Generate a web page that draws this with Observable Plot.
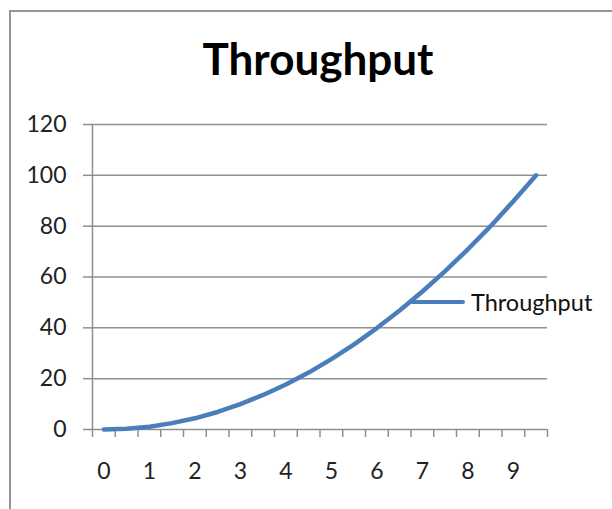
<!DOCTYPE html>
<html>
<head>
<meta charset="utf-8">
<script src="https://cdn.jsdelivr.net/npm/d3@7"></script>
<script src="https://cdn.jsdelivr.net/npm/@observablehq/plot@0.6"></script>
<style>
  html, body { margin: 0; padding: 0; background: #fff; }
  #wrap { position: relative; width: 612px; height: 509px; overflow: hidden; background: #fff; font-family: Lato, "DejaVu Sans", sans-serif; }
  #frame { position: absolute; left: 9px; top: 10px; width: 900px; height: 900px; border-left: 2px solid #959595; border-top: 2px solid #959595; box-sizing: border-box; }
  #title { position: absolute; left: 0; top: 35.5px; width: 636px; text-align: center; font: bold 44px/44px Lato, sans-serif; color: #000; }
  #chart { position: absolute; left: 0; top: 0; }
  #legend { position: absolute; left: 410px; top: 290.5px; display: flex; align-items: center; gap: 6px; font: 23.5px/23px Lato, sans-serif; color: #111; white-space: nowrap; }
  #legend .sw { display: inline-block; width: 55px; height: 4.5px; background: #4a7ebb; border-radius: 2px; }
</style>
</head>
<body>
<div id="wrap">
  <div id="frame"></div>
  <div id="title">Throughput</div>
  <div id="chart"></div>
  <div id="legend"><span class="sw"></span><span>Throughput</span></div>
</div>
<script>
// Categories (x values) and series values
const xs = [0, 0.5, 1, 1.5, 2, 2.5, 3, 3.5, 4, 4.5, 5, 5.5, 6, 6.5, 7, 7.5, 8, 8.5, 9, 9.5];
const throughput = [0, 0.3, 1.1, 2.5, 4.4, 6.9, 10, 13.6, 17.7, 22.4, 27.7, 33.5, 39.9, 46.8, 54.3, 62.3, 70.9, 80, 89.8, 100];
const xLabels = [0, 1, 2, 3, 4, 5, 6, 7, 8, 9];
const yTicks = [0, 20, 40, 60, 80, 100, 120];

const data = xs.map((x, i) => ({x, y: throughput[i]}));
const step = xs[1] - xs[0];
const xDomain = [xs[0] - step / 2, xs[xs.length - 1] + step / 2];
// category boundaries for the tick marks
const boundaries = [...xs.map(x => x - step / 2), xs[xs.length - 1] + step / 2];

const gridColor = "#8f8f8f";

const chart = Plot.plot({
  width: 612,
  height: 509,
  marginLeft: 92,
  marginRight: 65,
  marginTop: 124,
  marginBottom: 80,
  style: { fontFamily: "Lato, sans-serif", fontSize: "23px", color: "#222", background: "transparent", overflow: "visible" },
  x: { domain: xDomain },
  y: { domain: [0, 120] },
  marks: [
    Plot.ruleY(yTicks, { stroke: gridColor, strokeWidth: 1.5 }),
    Plot.ruleX([xDomain[0]], { stroke: gridColor, strokeWidth: 1.5 }),
    Plot.axisY({ ticks: yTicks, tickSize: 9, tickPadding: 17, stroke: gridColor, strokeWidth: 1.5, label: null, fontSize: 23, fill: "#222" }),
    Plot.axisX({ ticks: boundaries, tickSize: 8, tickFormat: () => "", stroke: gridColor, strokeWidth: 1.5, label: null }),
    Plot.axisX({ ticks: xLabels, tickSize: 0, tickPadding: 33, tickFormat: d => String(d), label: null, fontSize: 23, fill: "#222" }),
    Plot.line(data, { x: "x", y: "y", stroke: "#4a7ebb", strokeWidth: 4.5, strokeLinejoin: "round", strokeLinecap: "round" })
  ]
});
document.getElementById("chart").appendChild(chart);
</script>
</body>
</html>
